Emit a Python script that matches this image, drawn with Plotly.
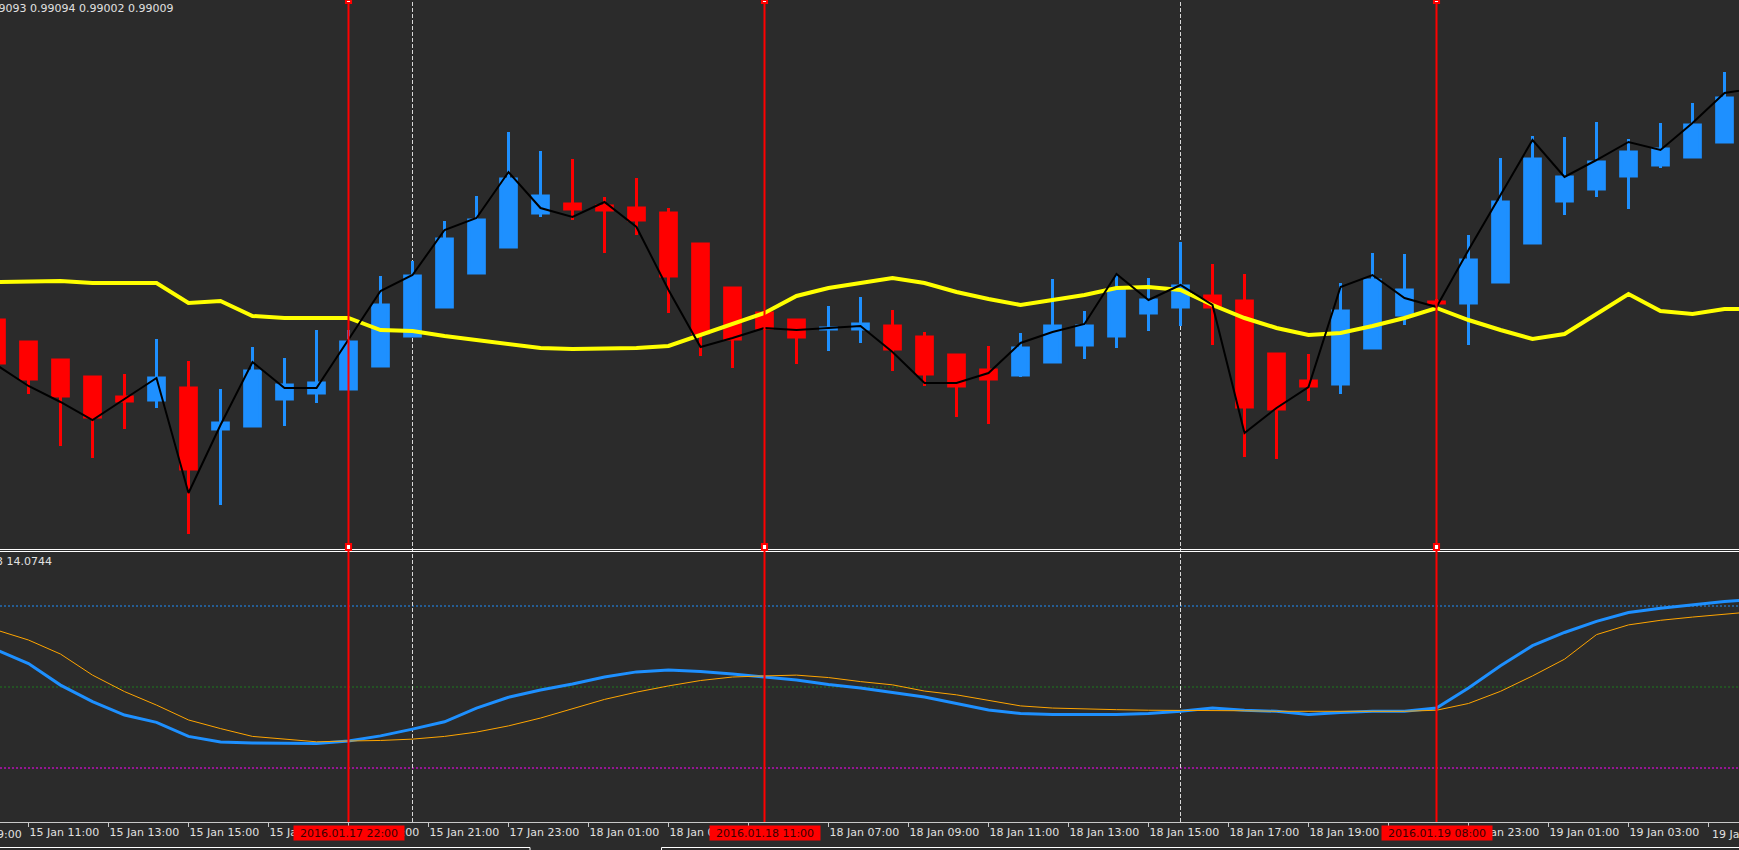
import plotly.graph_objects as go

# ---------------- data ----------------
bar_index = list(range(55))          # hourly bars shown in the window
line_index = list(range(56))         # indicator lines run one bar past the right edge

candle_open = [0.98980, 0.98958, 0.98940, 0.98923, 0.98903, 0.98900, 0.98912, 0.98871, 0.98874, 0.98901,
               0.98907, 0.98911, 0.98934, 0.98964, 0.98993, 0.99027, 0.99053, 0.99087, 0.99096, 0.99094,
               0.99092, 0.99087, 0.99056, 0.99012, 0.98987, 0.98980, 0.98971, 0.98971, 0.98974, 0.98963,
               0.98945, 0.98930, 0.98925, 0.98938, 0.98955, 0.98964, 0.98987, 0.98993, 0.99004, 0.98999,
               0.98946, 0.98919, 0.98916, 0.98952, 0.98985, 0.98998, 0.98997, 0.99018, 0.99057, 0.99099,
               0.99111, 0.99124, 0.99135, 0.99143, 0.99158]
candle_high = [0.98984, 0.98958, 0.98940, 0.98923, 0.98926, 0.98961, 0.98939, 0.98911, 0.98953, 0.98942,
               0.98970, 0.98970, 0.99024, 0.99039, 0.99079, 0.99104, 0.99168, 0.99149, 0.99141, 0.99103,
               0.99122, 0.99092, 0.99056, 0.99012, 0.98989, 0.98980, 0.98994, 0.99003, 0.98990, 0.98968,
               0.98945, 0.98954, 0.98967, 0.99021, 0.98989, 0.99026, 0.99022, 0.99058, 0.99036, 0.99026,
               0.98946, 0.98946, 0.99017, 0.99047, 0.99046, 0.99001, 0.99065, 0.99142, 0.99164, 0.99163,
               0.99178, 0.99161, 0.99177, 0.99197, 0.99228]
candle_low = [0.98934, 0.98906, 0.98854, 0.98842, 0.98871, 0.98892, 0.98766, 0.98795, 0.98873, 0.98874,
              0.98897, 0.98910, 0.98933, 0.98963, 0.98992, 0.99026, 0.99052, 0.99083, 0.99080, 0.99047,
              0.99065, 0.98987, 0.98944, 0.98932, 0.98970, 0.98936, 0.98949, 0.98957, 0.98929, 0.98914,
              0.98883, 0.98876, 0.98923, 0.98937, 0.98941, 0.98952, 0.98969, 0.98974, 0.98955, 0.98843,
              0.98841, 0.98899, 0.98906, 0.98951, 0.98975, 0.98994, 0.98955, 0.99017, 0.99056, 0.99085,
              0.99103, 0.99091, 0.99132, 0.99142, 0.99157]
candle_close = [0.98937, 0.98921, 0.98904, 0.98883, 0.98899, 0.98922, 0.98831, 0.98877, 0.98929, 0.98915,
                0.98917, 0.98958, 0.98995, 0.99024, 0.99061, 0.99080, 0.99121, 0.99104, 0.99091, 0.99090,
                0.99080, 0.99024, 0.98967, 0.98961, 0.98972, 0.98963, 0.98972, 0.98976, 0.98951, 0.98926,
                0.98914, 0.98921, 0.98952, 0.98974, 0.98974, 0.99010, 0.99000, 0.99014, 0.98993, 0.98893,
                0.98891, 0.98914, 0.98989, 0.99020, 0.99010, 0.98997, 0.99040, 0.99098, 0.99141, 0.99123,
                0.99138, 0.99148, 0.99151, 0.99175, 0.99202]

ma_yellow = [0.99018, 0.99019, 0.99019, 0.99017, 0.99017, 0.99017, 0.98997, 0.98999, 0.98984, 0.98982,
             0.98982, 0.98982, 0.98970, 0.98969, 0.98964, 0.98960, 0.98955, 0.98952, 0.98951, 0.98951,
             0.98952, 0.98954, 0.98965, 0.98976, 0.98987, 0.99004, 0.99012, 0.99017, 0.99022, 0.99017,
             0.99008, 0.99001, 0.98995, 0.99000, 0.99005, 0.99012, 0.99013, 0.99010, 0.98995, 0.98982,
             0.98972, 0.98965, 0.98967, 0.98974, 0.98982, 0.98992, 0.98980, 0.98970, 0.98961, 0.98966,
             0.98986, 0.99006, 0.98989, 0.98986, 0.98991, 0.98991]
line_black = [0.98935, 0.98914, 0.98898, 0.98880, 0.98901, 0.98922, 0.98807, 0.98875, 0.98938, 0.98912,
              0.98912, 0.98960, 0.99009, 0.99025, 0.99070, 0.99082, 0.99128, 0.99092, 0.99083, 0.99098,
              0.99073, 0.99010, 0.98953, 0.98962, 0.98972, 0.98970, 0.98972, 0.98974, 0.98948, 0.98917,
              0.98917, 0.98927, 0.98957, 0.98968, 0.98976, 0.99026, 0.99000, 0.99015, 0.98995, 0.98867,
              0.98892, 0.98913, 0.99013, 0.99025, 0.99002, 0.98993, 0.99050, 0.99105, 0.99160, 0.99123,
              0.99140, 0.99158, 0.99150, 0.99177, 0.99207, 0.99212]

stoch_main = [63.7, 58.7, 50.7, 44.6, 39.6, 36.9, 31.7, 29.6, 29.3, 29.1, 29.1, 30.0, 31.9, 34.4, 37.1,
              42.2, 46.2, 48.9, 51.1, 53.7, 55.6, 56.3, 55.7, 54.8, 53.8, 52.6, 50.9, 49.6, 48.0, 46.3,
              43.9, 41.5, 40.2, 39.8, 39.8, 39.8, 40.2, 41.0, 42.2, 41.4, 41.0, 39.8, 40.6, 41.0, 41.0,
              42.2, 49.6, 57.9, 65.3, 70.2, 74.3, 77.6, 79.2, 80.4, 81.7, 82.5]
stoch_signal = [71.1, 67.4, 62.2, 54.4, 48.3, 43.3, 37.8, 34.6, 31.7, 30.6, 29.7, 30.0, 30.2, 30.7, 31.7,
                33.3, 35.6, 38.5, 41.9, 45.4, 48.1, 50.4, 52.4, 53.7, 54.1, 54.4, 53.5, 52.0, 50.8, 48.5,
                47.1, 45.1, 43.0, 42.2, 41.8, 41.6, 41.4, 41.4, 41.4, 41.2, 41.0, 41.0, 41.0, 41.0, 41.0,
                41.4, 43.9, 48.4, 54.1, 60.3, 69.4, 73.0, 74.7, 75.9, 77.1, 78.0]
stoch_levels = [80, 50, 20]

tick_bars = [1, 3.5, 6, 8.5, 11, 13.5, 16, 18.5, 21, 23.5, 26, 28.5, 31, 33.5, 36, 38.5, 41, 43.5,
             46, 48.5, 51, 53.5]
tick_labels = ["15 Jan 11:00", "15 Jan 13:00", "15 Jan 15:00", "15 Jan 17:00", "15 Jan 19:00",
               "15 Jan 21:00", "17 Jan 23:00", "18 Jan 01:00", "18 Jan 03:00", "18 Jan 05:00",
               "18 Jan 07:00", "18 Jan 09:00", "18 Jan 11:00", "18 Jan 13:00", "18 Jan 15:00",
               "18 Jan 17:00", "18 Jan 19:00", "18 Jan 21:00", "18 Jan 23:00", "19 Jan 01:00",
               "19 Jan 03:00", "19 Jan 05:00"]
offscreen_tick_bar = -1.5
offscreen_tick_label = "15 Jan 09:00"

vline_bars = [11, 24, 45]
vline_labels = ["2016.01.17 22:00", "2016.01.18 11:00", "2016.01.19 08:00"]
day_separator_bars = [13, 37]

ohlc_text = "0.99093 0.99094 0.99002 0.99009"
stoch_text = "3 14.0744"

# ---------------- styling ----------------
BG = "#2b2b2b"
BLUE = "#1e90ff"
RED = "#ff0000"
FONT = "DejaVu Sans"
TXT = "#e0e0e0"
W, H = 1739, 850
PLOT_H = 822
TOP_PANEL_BOTTOM = 548
LOW_PANEL_TOP = 552
BAR_PX = 32.0
BAR0_PX = -3.5


def py(px):
    """pixel row -> paper coordinate"""
    return (PLOT_H - px) / PLOT_H


def bar_px(b):
    return BAR0_PX + BAR_PX * b


fig = go.Figure()

fig.add_trace(go.Scatter(x=line_index, y=ma_yellow, mode="lines", xaxis="x2", yaxis="y",
                         line=dict(color="#ffff00", width=4), hoverinfo="skip"))
fig.add_trace(go.Candlestick(x=bar_index, open=candle_open, high=candle_high, low=candle_low,
                             close=candle_close, xaxis="x2", yaxis="y",
                             increasing=dict(line=dict(color=BLUE, width=3), fillcolor=BLUE),
                             decreasing=dict(line=dict(color=RED, width=3), fillcolor=RED),
                             whiskerwidth=0, hoverinfo="skip"))
fig.add_trace(go.Scatter(x=line_index, y=line_black, mode="lines", xaxis="x2", yaxis="y",
                         line=dict(color="#000000", width=2), hoverinfo="skip"))

fig.add_trace(go.Scatter(x=line_index, y=stoch_main, mode="lines", xaxis="x", yaxis="y2",
                         line=dict(color=BLUE, width=3), hoverinfo="skip"))
fig.add_trace(go.Scatter(x=line_index, y=stoch_signal, mode="lines", xaxis="x", yaxis="y2",
                         line=dict(color="#ffa500", width=1), hoverinfo="skip"))

shapes = []
level_colors = [BLUE, "#1f7a1f", "#ff00ff"]
for lv, col in zip(stoch_levels, level_colors):
    shapes.append(dict(type="line", xref="paper", x0=0, x1=1, yref="y2", y0=lv, y1=lv,
                       line=dict(color=col, width=1, dash="2px,2px"), layer="below"))
for b in day_separator_bars:
    shapes.append(dict(type="line", xref="x", x0=b, x1=b, yref="paper", y0=0, y1=1,
                       line=dict(color="#d8d8d8", width=1, dash="4px,2px"), layer="below"))
# panel separator (double line)
for ypx in (549.5, 551.5):
    shapes.append(dict(type="line", xref="paper", x0=0, x1=1, yref="paper", y0=py(ypx), y1=py(ypx),
                       line=dict(color="#ffffff", width=1), layer="above"))
for b in vline_bars:
    shapes.append(dict(type="line", xref="x", x0=b, x1=b, yref="paper", y0=0, y1=1,
                       line=dict(color=RED, width=2), layer="above"))
    for (t, btm) in ((0, 3), (544, 550)):
        shapes.append(dict(type="rect", xref="x", x0=b - 0.08, x1=b + 0.08, yref="paper",
                           y0=py(btm), y1=py(t), line=dict(color=RED, width=2),
                           fillcolor="#ffffff", layer="above"))
# window tabs peeking in at the bottom edge
for (x0px, x1px) in ((-2, 530), (661.5, 1745)):
    shapes.append(dict(type="rect", xref="paper", x0=x0px / W, x1=x1px / W, yref="paper",
                       y0=py(856), y1=py(847.5), line=dict(color="#ffffff", width=1),
                       fillcolor=BG, layer="above"))

# the axis draws every tick; labels whose text runs past an edge are written as annotations
edge_label_bars = [offscreen_tick_bar, tick_bars[-1]]
edge_label_texts = [offscreen_tick_label, tick_labels[-1]]
axis_ticktext = tick_labels[:-1] + [""]

annotations = [
    dict(text=ohlc_text, xref="paper", x=0, xanchor="left", xshift=-21, yref="paper", y=1,
         yanchor="top", showarrow=False, font=dict(family=FONT, size=11, color=TXT)),
    dict(text=stoch_text, xref="paper", x=0, xanchor="left", xshift=-6, yref="paper",
         y=py(LOW_PANEL_TOP + 1), yanchor="top", showarrow=False,
         font=dict(family=FONT, size=11, color=TXT)),
]
for b, lab in zip(edge_label_bars, edge_label_texts):
    annotations.append(dict(text=lab, xref="paper", x=0, xanchor="left", xshift=bar_px(b) + 1,
                            yref="paper", y=0, yanchor="top", yshift=-4, showarrow=False,
                            font=dict(family=FONT, size=11, color=TXT)))
for b, lab in zip(vline_bars, vline_labels):
    annotations.append(dict(text=lab, xref="x", x=b, xanchor="center", yref="paper", y=0,
                            yanchor="top", yshift=-3, width=110, height=14, borderpad=0,
                            bgcolor=RED, showarrow=False,
                            font=dict(family=FONT, size=11, color="#3a0000")))

x_range = [(0 - BAR0_PX) / BAR_PX, (W - BAR0_PX) / BAR_PX]

fig.update_layout(
    width=W, height=H,
    margin=dict(l=0, r=0, t=0, b=H - PLOT_H, pad=0, autoexpand=False),
    paper_bgcolor=BG, plot_bgcolor=BG,
    showlegend=False, hovermode=False,
    xaxis=dict(domain=[0, 1], range=x_range, anchor="y2", tickmode="array", tickvals=tick_bars,
               ticktext=axis_ticktext, tickangle=0, ticks="outside", ticklen=4, tickwidth=1,
               tickcolor="#c8c8c8", showline=True, linecolor="#c8c8c8", linewidth=1,
               showgrid=False, zeroline=False, ticklabelposition="outside right",
               automargin=False,
               tickfont=dict(family=FONT, size=11, color=TXT),
               rangeslider=dict(visible=False), fixedrange=True),
    xaxis2=dict(matches="x", anchor="y", showticklabels=False, showgrid=False, zeroline=False,
                showline=False, ticks="", rangeslider=dict(visible=False), fixedrange=True),
    yaxis=dict(domain=[py(TOP_PANEL_BOTTOM), 1], range=[0.99300 - TOP_PANEL_BOTTOM / 1e5, 0.99300],
               visible=False, fixedrange=True),
    yaxis2=dict(domain=[0, py(LOW_PANEL_TOP)], range=[0, 100], visible=False, fixedrange=True),
    shapes=shapes,
    annotations=annotations,
)

fig.write_html("out.html", config={"displayModeBar": False})
